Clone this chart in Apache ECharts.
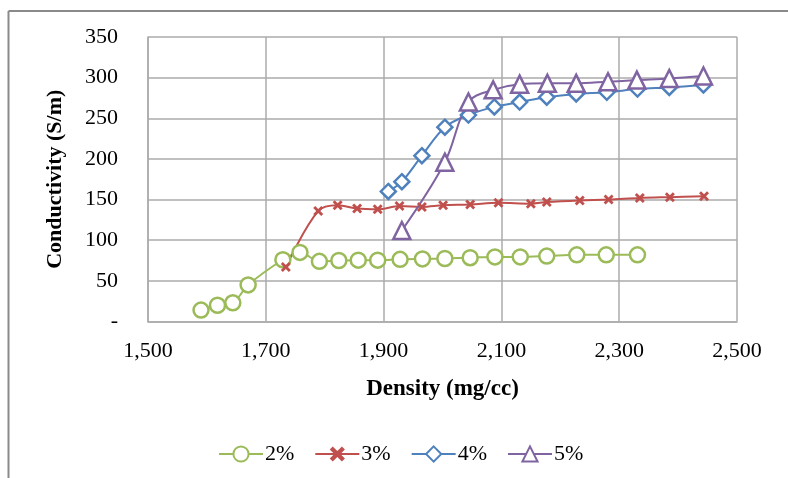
<!DOCTYPE html>
<html>
<head>
<meta charset="utf-8">
<script src="https://cdn.jsdelivr.net/npm/echarts@6/dist/echarts.min.js"></script>
<style>
  html, body { margin: 0; padding: 0; background: #fff; }
  #chart { width: 788px; height: 478px; }
</style>
</head>
<body>
<div id="chart"></div>
<script>
// Density (mg/cc) and conductivity (S/m) for each additive content
const density2 = [1590, 1618, 1644, 1670, 1729, 1758, 1791, 1824, 1857, 1890, 1928, 1966, 2004, 2047, 2089, 2132, 2177, 2228, 2278, 2331];
const cond2    = [14, 20, 23, 45, 76, 85, 74, 75, 75.5, 75.5, 76.5, 77, 77.5, 78.5, 79.5, 79.5, 80.5, 82, 82, 82];

const density3 = [1734, 1789, 1822, 1855, 1890, 1927, 1965, 2001, 2047, 2095, 2150, 2177, 2233, 2282, 2335, 2386, 2444];
const cond3    = [67, 136, 143, 139, 138, 142, 141, 143, 144, 146, 145, 147, 149, 150, 152, 153, 154];

const density4 = [1908, 1931, 1965, 2004, 2044, 2088, 2131, 2177, 2227, 2279, 2331, 2385, 2443];
const cond4    = [160, 172, 204, 239, 254, 264, 270, 276, 280, 282, 286, 288, 291];

const density5 = [1931, 2004, 2044, 2086, 2131, 2178, 2227, 2281, 2330, 2385, 2443];
const cond5    = [112, 196, 270, 285, 292, 293, 293, 295, 297, 299, 302];

const seriesNames = ['2%', '3%', '4%', '5%'];
const xTicks = { min: 1500, max: 2500, step: 200 };
const yTicks = { min: 0, max: 350, step: 50 };

const FONT = '"Liberation Serif", "Times New Roman", serif';
const GRID_COLOR = '#ababab';

function pairs(xs, ys) { return xs.map((x, i) => [x, ys[i]]); }

const crossPath = 'path://M2,0 L5,3 L8,0 L10,2 L7,5 L10,8 L8,10 L5,7 L2,10 L0,8 L3,5 L0,2 Z';

const chart = echarts.init(document.getElementById('chart'), null, { renderer: 'canvas' });

function lineSeries(name, data, color, symbol, size, hollow) {
  return {
    name: name,
    type: 'line',
    data: data,
    smooth: 0.35,
    symbol: symbol,
    symbolSize: size,
    showAllSymbol: true,
    lineStyle: { color: color, width: 2 },
    itemStyle: hollow
      ? { color: '#fff', borderColor: color, borderWidth: 2.5 }
      : { color: color, borderColor: color, borderWidth: 0 },
    emphasis: { disabled: true },
    z: 3
  };
}

chart.setOption({
  animation: false,
  backgroundColor: '#fff',
  textStyle: { fontFamily: FONT },
  grid: { left: 148, right: 51, top: 37, bottom: 156.5, containLabel: false },
  xAxis: {
    type: 'value',
    min: xTicks.min, max: xTicks.max, interval: xTicks.step,
    name: 'Density (mg/cc)',
    nameLocation: 'middle',
    nameGap: 56,
    nameTextStyle: { fontFamily: FONT, fontSize: 23, fontWeight: 'bold', color: '#000' },
    axisLine: { show: true, lineStyle: { color: GRID_COLOR, width: 1.5 } },
    axisTick: { show: false },
    axisLabel: {
      margin: 19, fontFamily: FONT, fontSize: 22, color: '#000',
      formatter: v => v.toLocaleString('en-US')
    },
    splitLine: { show: true, lineStyle: { color: GRID_COLOR, width: 1.5 } }
  },
  yAxis: {
    type: 'value',
    min: yTicks.min, max: yTicks.max, interval: yTicks.step,
    name: 'Conductivity (S/m)',
    nameLocation: 'middle',
    nameRotate: 90,
    nameGap: 82,
    nameTextStyle: { fontFamily: FONT, fontSize: 22, fontWeight: 'bold', color: '#000' },
    axisLine: { show: true, lineStyle: { color: GRID_COLOR, width: 1.5 } },
    axisTick: { show: false },
    axisLabel: {
      margin: 30, fontFamily: FONT, fontSize: 22, color: '#000',
      formatter: v => (v === 0 ? '-' : String(v))
    },
    splitLine: { show: true, lineStyle: { color: GRID_COLOR, width: 1.5 } }
  },
  legend: {
    data: seriesNames,
    left: 213,
    top: 438,
    itemWidth: 44,
    itemHeight: 19,
    itemGap: 20,
    textStyle: { fontFamily: FONT, fontSize: 22, color: '#000', padding: [0, 0, 0, -3] }
  },
  graphic: [
    { type: 'line', shape: { x1: 8.5, y1: 11, x2: 788, y2: 11 }, style: { stroke: '#8a8a8a', lineWidth: 2 }, silent: true },
    { type: 'line', shape: { x1: 8.5, y1: 11, x2: 8.5, y2: 478 }, style: { stroke: '#8a8a8a', lineWidth: 2 }, silent: true }
  ],
  series: [
    lineSeries(seriesNames[0], pairs(density2, cond2), '#9bbb59', 'circle', 15, true),
    lineSeries(seriesNames[1], pairs(density3, cond3), '#c0504d', crossPath, 10, false),
    lineSeries(seriesNames[2], pairs(density4, cond4), '#4f81bd', 'diamond', 15, true),
    lineSeries(seriesNames[3], pairs(density5, cond5), '#8064a2', 'triangle', 17, true)
  ]
});
</script>
</body>
</html>
